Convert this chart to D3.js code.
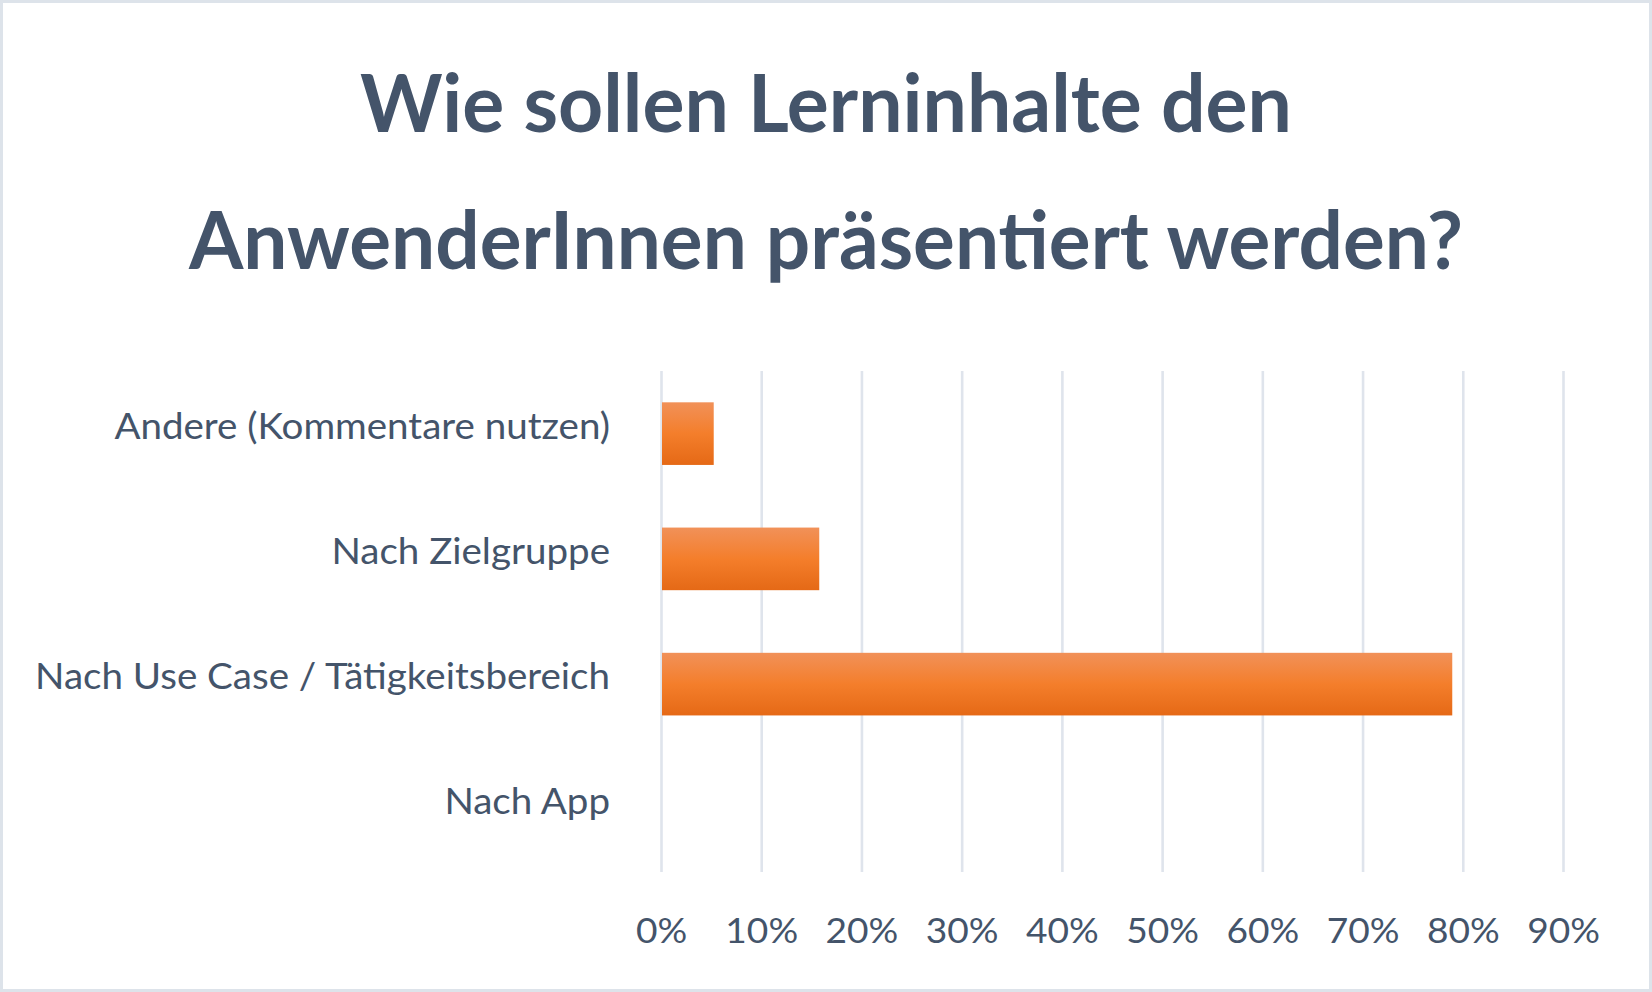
<!DOCTYPE html>
<html>
<head>
<meta charset="utf-8">
<script src="https://cdn.jsdelivr.net/npm/d3@7"></script>
<style>
  html, body { margin: 0; padding: 0; background: #fff; }
  svg { display: block; }
  .axis text { font-family: Lato, 'Open Sans', sans-serif; fill: #44546a; }
</style>
</head>
<body>
<script>
const categories = [
  'Andere (Kommentare nutzen)',
  'Nach Zielgruppe',
  'Nach Use Case / Tätigkeitsbereich',
  'Nach App'
]
const shares = [0.0526, 0.1579, 0.7895, 0]
const tickValues = [0, 0.1, 0.2, 0.3, 0.4, 0.5, 0.6, 0.7, 0.8, 0.9]
const titleLines = ['Wie sollen Lerninhalte den', 'AnwenderInnen präsentiert werden?']

const data = categories.map((c, i) => ({ category: c, value: shares[i] }))

const outerWidth = 1652
const outerHeight = 992
const margin = { left: 661, top: 371, right: 89, bottom: 120 }
const innerWidth = outerWidth - margin.left - margin.right
const innerHeight = outerHeight - margin.top - margin.bottom
const textColor = '#44546a'

const svg = d3.select('body').append('svg')
  .attr('width', outerWidth)
  .attr('height', outerHeight)

svg.append('rect')
  .attr('x', 1.5).attr('y', 1.5)
  .attr('width', outerWidth - 3).attr('height', outerHeight - 3)
  .attr('fill', '#fff')
  .attr('stroke', '#dde3ea')
  .attr('stroke-width', 3)

// bar gradient
const grad = svg.append('defs').append('linearGradient')
  .attr('id', 'barGrad')
  .attr('x1', 0).attr('y1', 0).attr('x2', 0).attr('y2', 1)
grad.append('stop').attr('offset', '0%').attr('stop-color', '#f19159')
grad.append('stop').attr('offset', '50%').attr('stop-color', '#f47e2b')
grad.append('stop').attr('offset', '100%').attr('stop-color', '#e56916')

// title
const titleTargets = [932, 1274]
svg.selectAll('text.title')
  .data(titleLines)
  .enter()
  .append('text')
  .attr('class', 'title')
  .attr('x', outerWidth / 2)
  .attr('y', (d, i) => 132 + i * 137)
  .attr('text-anchor', 'middle')
  .attr('font-family', 'Lato, sans-serif')
  .attr('font-weight', 'bold')
  .attr('font-size', 80)
  .attr('fill', textColor)
  .attr('textLength', (d, i) => titleTargets[i])
  .attr('lengthAdjust', 'spacingAndGlyphs')
  .text(d => d)

const g = svg.append('g')
  .attr('transform', 'translate(' + margin.left + ',' + margin.top + ')')

const xScale = d3.scaleLinear()
  .domain([0, 0.9])
  .range([0, innerWidth])

const yScale = d3.scaleBand()
  .domain(categories)
  .range([0, innerHeight])
  .paddingInner(0.5)
  .paddingOuter(0.25)

// stretch Lato a little so it takes Calibri's width
function widen (sel, factor) {
  sel.each(function () {
    const w = this.getComputedTextLength()
    d3.select(this)
      .attr('textLength', w * factor)
      .attr('lengthAdjust', 'spacingAndGlyphs')
  })
}

const xAxis = g.append('g')
  .attr('class', 'axis axis--x')
  .attr('transform', 'translate(0,' + innerHeight + ')')
  .call(d3.axisBottom(xScale)
    .tickValues(tickValues)
    .tickSize(-innerHeight)
    .tickPadding(46)
    .tickFormat(d3.format('.0%')))
xAxis.select('.domain').remove()
xAxis.selectAll('line').attr('stroke', '#dfe4ec').attr('stroke-width', 2.6)
xAxis.selectAll('text').attr('font-size', 35).call(widen, 1.06)

const yAxis = g.append('g')
  .attr('class', 'axis axis--y')
  .call(d3.axisLeft(yScale).tickSize(0).tickPadding(51))
yAxis.select('.domain').remove()
yAxis.selectAll('text')
  .attr('font-size', 36)
  .attr('dy', '0.14em')
  .call(widen, 1.07)

g.selectAll('rect.bar')
  .data(data)
  .enter()
  .append('rect')
  .attr('class', 'bar')
  .attr('x', xScale(0) + 1)
  .attr('y', d => yScale(d.category))
  .attr('width', d => Math.max(0, xScale(d.value) - 1))
  .attr('height', yScale.bandwidth())
  .attr('fill', 'url(#barGrad)')
</script>
</body>
</html>
